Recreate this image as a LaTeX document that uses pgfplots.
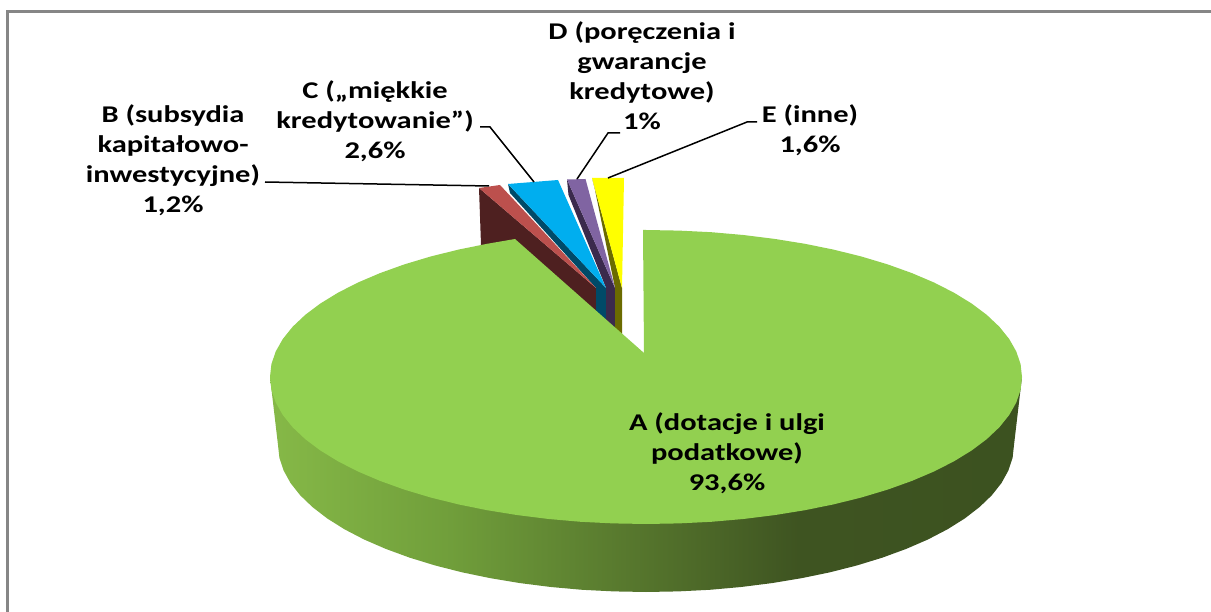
\documentclass[border=0pt]{standalone}
\usepackage{pgfplots}
\pgfplotsset{compat=1.18}
\usepackage{fontspec}
\setmainfont{Carlito}[FakeStretch=1.27]
\definecolor{agreen}{RGB}{146,208,80}
\definecolor{bred}{RGB}{188,80,77}
\definecolor{bdark}{RGB}{78,32,32}
\definecolor{cblue}{RGB}{0,174,239}
\definecolor{cdark}{RGB}{0,74,104}
\definecolor{dpurple}{RGB}{128,100,162}
\definecolor{ddark}{RGB}{59,42,76}
\definecolor{eyellow}{RGB}{255,255,0}
\definecolor{edark}{RGB}{107,107,0}
\definecolor{frameg}{RGB}{134,134,134}
\pgfdeclarehorizontalshading{pieside}{100bp}{
 rgb(0bp)=(0.525,0.725,0.28);
 rgb(25bp)=(0.525,0.725,0.28);
 rgb(37bp)=(0.44,0.62,0.23);
 rgb(49.6bp)=(0.335,0.46,0.175);
 rgb(60bp)=(0.245,0.33,0.13);
 rgb(75bp)=(0.235,0.32,0.125);
 rgb(100bp)=(0.235,0.32,0.125)}
\begin{document}
\begin{tikzpicture}
\useasboundingbox (0,0) rectangle (1211pt,612pt);
\begin{axis}[
  at={(0,0)}, anchor=south west,
  scale only axis, width=1211pt, height=612pt,
  xmin=0, xmax=1211, ymin=0, ymax=612, y dir=reverse,
  hide axis, clip=true,
]
% frame
\addplot[frameg, line width=2.6pt] coordinates {(7.5,612) (7.5,11.5) (1211,11.5)};
% side of slice A
\addplot[shading=pieside, draw=none] coordinates {
(1022,377)(1014,445)(1012.6,457.8)(1008.4,470.5)(1001.5,483)(991.8,495.3)(979.5,507.1)(964.7,518.5)(947.5,529.3)(927.9,539.5)(906.2,548.9)(882.5,557.6)(857.1,565.4)(830,572.3)(801.5,578.2)(771.9,583.1)(741.2,587)(709.9,589.8)(678.1,591.4)(646,592)(613.9,591.4)(582.1,589.8)(550.8,587)(520.1,583.1)(490.5,578.2)(462,572.3)(434.9,565.4)(409.5,557.6)(385.8,548.9)(364.1,539.5)(344.5,529.3)(327.3,518.5)(312.5,507.1)(300.2,495.3)(290.5,483)(283.6,470.5)(279.4,457.8)(278,445)(270,377)
} -- cycle;
% small slices: sides
\addplot[fill=bdark, draw=none] coordinates {(479,188)(481,245)(520,250)(596,325)(596,288)} -- cycle;
\addplot[fill=cdark, draw=none] coordinates {(508,184)(510,193)(596,288)(596,315)(610,325)(606,288)} -- cycle;
\addplot[fill=ddark, draw=none] coordinates {(567,179.5)(568.5,195)(606,288)(606,325)(618,335)(615,288)} -- cycle;
\addplot[fill=edark, draw=none] coordinates {(592,178)(595,190)(615,288)(615,330)(622,338)(622,288)} -- cycle;
% small slices: tops
\addplot[fill=bred, draw=none] coordinates {(479,188)(500,185)(596,288)} -- cycle;
\addplot[fill=cblue, draw=none] coordinates {(508,184)(558,180)(606,288)} -- cycle;
\addplot[fill=dpurple, draw=none] coordinates {(567,179.5)(585.5,179)(615,288)} -- cycle;
\addplot[fill=eyellow, draw=none] coordinates {(592,178)(624,178)(622,288)} -- cycle;
% top of slice A
\addplot[fill=agreen, draw=none] coordinates {
(644,353)(643,230)(646,230)(678.8,230.6)(711.3,232.2)(743.3,235)(774.6,238.9)(804.9,243.8)(834,249.7)(861.7,256.6)(887.7,264.4)(911.9,273.1)(934,282.5)(954,292.7)(971.6,303.5)(986.8,314.9)(999.3,326.7)(1009.2,339)(1016.3,351.5)(1020.6,364.2)(1022,377)
(1020.6,389.8)(1016.3,402.5)(1009.2,415)(999.3,427.3)(986.8,439.1)(971.6,450.5)(954,461.3)(934,471.5)(911.9,480.9)(887.7,489.6)(861.7,497.4)(834,504.3)(804.9,510.2)(774.6,515.1)(743.3,519)(711.3,521.8)(678.8,523.4)(646,524)
(613.2,523.4)(580.7,521.8)(548.7,519)(517.4,515.1)(487.1,510.2)(458,504.3)(430.3,497.4)(404.3,489.6)(380.1,480.9)(358,471.5)(338,461.3)(320.4,450.5)(305.2,439.1)(292.7,427.3)(282.8,415)(275.7,402.5)(271.4,389.8)(270,377)
(271.4,364.2)(275.7,351.5)(282.8,339)(292.7,326.7)(305.2,314.9)(320.4,303.5)(338,292.7)(358,282.5)(380.1,273.1)(404.3,264.4)(430.3,256.6)(458,249.7)(487.1,243.8)(515,239)
} -- cycle;
% leader lines
\addplot[black, line width=1.5pt] coordinates {(265,182) (489,186)};
\addplot[black, line width=1.5pt] coordinates {(480,127) (490,127) (534,182)};
\addplot[black, line width=1.5pt] coordinates {(620,133) (608,133) (577,179)};
\addplot[black, line width=1.5pt] coordinates {(757,122) (747,122) (608,178)};
% labels
\tikzset{lab/.style={font=\fontsize{24}{30}\selectfont\bfseries, align=center, inner sep=0pt, text=black}}
\node[lab] at (axis cs:173,160) {B (subsydia\\kapitałowo-\\inwestycyjne)\\1,2\%};
\node[lab] at (axis cs:375,121) {C („miękkie\\kredytowanie”)\\2,6\%};
\node[lab] at (axis cs:642,76) {D (poręczenia i\\gwarancje\\kredytowe)\\1\%};
\node[lab] at (axis cs:810,130) {E (inne)\\1,6\%};
\node[lab] at (axis cs:727,453) {A (dotacje i ulgi\\podatkowe)\\93,6\%};
\end{axis}
\end{tikzpicture}
\end{document}
